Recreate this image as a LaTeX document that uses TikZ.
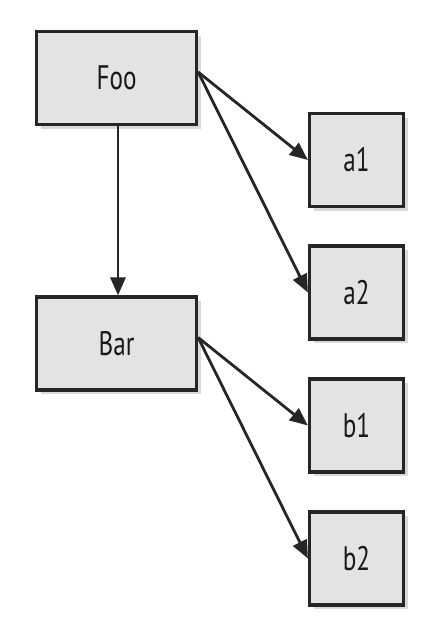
\documentclass[tikz,border=0pt]{standalone}
\usepackage{fontspec}
\setmainfont[FakeStretch=0.74]{PT Sans}
\usetikzlibrary{arrows.meta,shadows}
\begin{document}
\begin{tikzpicture}[x=1pt,y=-1pt,
  box/.style={draw=black!85,line width=3.2pt,fill=black!11,inner sep=0pt,
    font=\fontsize{34}{34}\selectfont,text=black!90,
    drop shadow={shadow xshift=4pt,shadow yshift=-4pt,opacity=0.25,fill=black!60}},
  big/.style={box,minimum width=160pt,minimum height=93pt},
  small/.style={box,minimum width=94pt,minimum height=93pt},
  arr/.style={draw=black!85,line width=2.8pt,-{Triangle[length=18pt,width=15pt]}}]
\useasboundingbox (0,0) rectangle (446,640);
\node[big] (foo) at (116.5,78) {Foo};
\node[big] (bar) at (116.5,343.5) {Bar};
\node[small] (a1) at (356.5,160) {a1};
\node[small] (a2) at (356.5,292.5) {a2};
\node[small] (b1) at (356.5,425.5) {b1};
\node[small] (b2) at (356.5,558.5) {b2};
\coordinate (fo) at ([yshift=6pt]foo.east);
\coordinate (bo) at ([yshift=6pt]bar.east);
\draw[arr] ([xshift=1.5pt]foo.south) -- ([xshift=1.5pt]bar.north);
\draw[arr] (fo) -- (a1.west);
\draw[arr] (fo) -- (a2.west);
\draw[arr] (bo) -- (b1.west);
\draw[arr] (bo) -- (b2.west);
\end{tikzpicture}
\end{document}
